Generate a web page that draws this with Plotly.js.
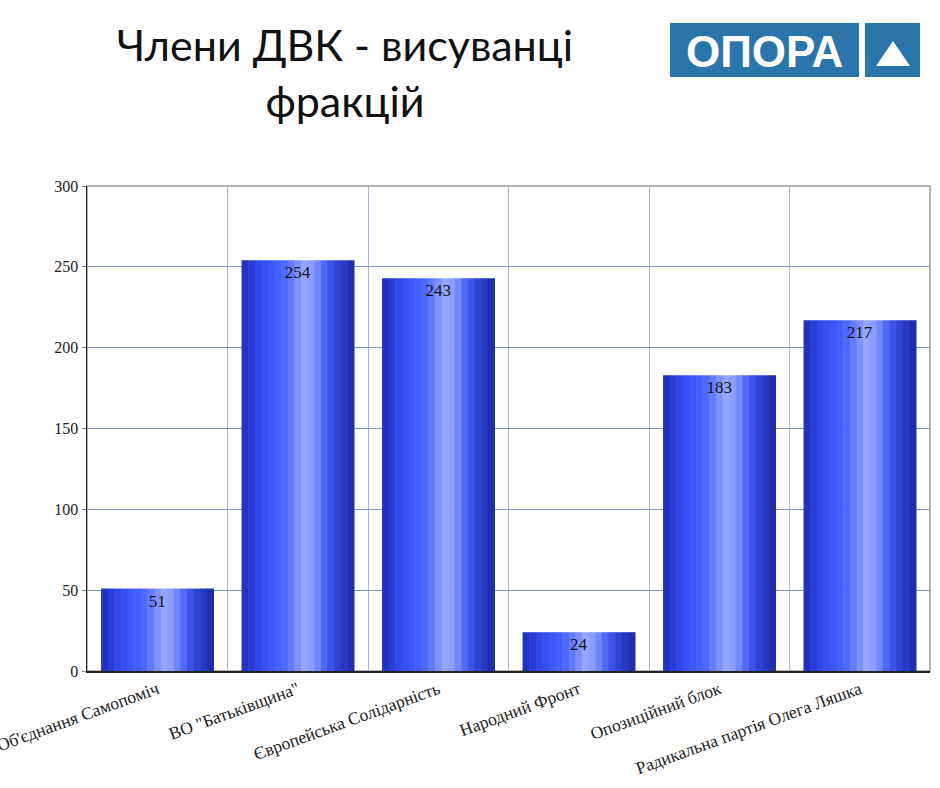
<!DOCTYPE html>
<html>
<head>
<meta charset="utf-8">
<script src="https://cdn.plot.ly/plotly-3.0.1.min.js"></script>
<style>
html,body{margin:0;padding:0;background:#fff;}
#chart{width:940px;height:788px;}
</style>
</head>
<body>
<div id="chart"></div>
<script>
// ---- data ----
const categories = [
  "Об'єднання Самопоміч",
  'ВО "Батьківщина"',
  "Європейська Солідарність",
  "Народний Фронт",
  "Опозиційний блок",
  "Радикальна партія Олега Ляшка"
];
const members = [51, 254, 243, 24, 183, 217];
const chartTitle = "Члени ДВК - висуванці<br>фракцій";
const logoText = "ОПОРА";

// ---- style: cylinder shading strips ----
const stripColors = [
  "#2232c0", "#2a3dd6", "#3148e6", "#3750f2", "#3d57f8", "#4360fc",
  "#4e69fd", "#637cfe", "#7e92ff", "#95a6ff", "#8c9eff", "#7187fc",
  "#5169f6", "#3c52e8", "#3044d4", "#2738c2", "#1f2eaa"
];
const barWidth = 0.8;
const n = stripColors.length;
const traces = stripColors.map((c, i) => ({
  type: "bar",
  x: categories,
  y: members,
  width: barWidth / n + 0.004,
  offset: -barWidth / 2 + i * barWidth / n,
  marker: { color: c, line: { width: 0 } },
  hoverinfo: "skip",
  showlegend: false
}));
traces.push({
  type: "bar",
  x: categories,
  y: members,
  width: barWidth,
  marker: { color: "rgba(0,0,0,0)", line: { width: 0 } },
  text: members.map(String),
  textposition: "inside",
  insidetextanchor: "end",
  textfont: { family: "Liberation Serif, serif", size: 17, color: "#111" },
  hoverinfo: "skip",
  showlegend: false
});

const L = 87, R = 930, T = 186, B = 671;
const px = v => (v - L) / (R - L);
const py = v => (B - v) / (B - T);

const layout = {
  width: 940, height: 788,
  paper_bgcolor: "#fff", plot_bgcolor: "#fff",
  margin: { l: L, r: 940 - R, t: T, b: 788 - B },
  barmode: "overlay",
  title: {
    text: chartTitle,
    x: 345 / 940, xanchor: "center",
    y: 1 - 61 / 788, yanchor: "middle",
    font: { family: "Lato, sans-serif", size: 43, color: "#111", weight: 400 }
  },
  xaxis: {
    type: "category",
    range: [-0.5, 5.5],
    tickson: "boundaries",
    showgrid: true, gridcolor: "#a7b8d2", gridwidth: 1,
    showline: true, linecolor: "#222", linewidth: 1.5,
    ticks: "", tickangle: -20,
    tickfont: { family: "Liberation Serif, serif", size: 17.5, color: "#222" },
    fixedrange: true
  },
  yaxis: {
    range: [0, 300], dtick: 50,
    showgrid: true, gridcolor: "#7d97c2", gridwidth: 1,
    zeroline: false,
    showline: true, linecolor: "#222", linewidth: 1.5,
    ticks: "outside", ticklen: 4, tickcolor: "#888",
    tickfont: { family: "Liberation Serif, serif", size: 16, color: "#222" },
    fixedrange: true
  },
  shapes: [
    { type: "rect", xref: "paper", yref: "paper", x0: 0, x1: 1, y0: 0, y1: 1,
      line: { color: "#9a9a9a", width: 1.5 }, fillcolor: "rgba(0,0,0,0)", layer: "below" },
    { type: "rect", xref: "paper", yref: "paper", x0: px(670), x1: px(859), y0: py(77), y1: py(23),
      line: { width: 0 }, fillcolor: "#2a75a9" },
    { type: "rect", xref: "paper", yref: "paper", x0: px(865), x1: px(920), y0: py(77), y1: py(23),
      line: { width: 0 }, fillcolor: "#2a75a9" },
    { type: "path", xref: "paper", yref: "paper",
      path: `M ${px(876)} ${py(66)} L ${px(910)} ${py(66)} L ${px(893)} ${py(41)} Z`,
      line: { width: 0 }, fillcolor: "#ffffff" }
  ],
  annotations: [
    { xref: "paper", yref: "paper", x: px(764), y: py(51), xanchor: "center", yanchor: "middle",
      text: logoText, showarrow: false,
      font: { family: "Liberation Sans, Arial, sans-serif", size: 44, color: "#fff", weight: 700 } }
  ]
};

Plotly.newPlot("chart", traces, layout, { displayModeBar: false, staticPlot: true });
</script>
</body>
</html>
